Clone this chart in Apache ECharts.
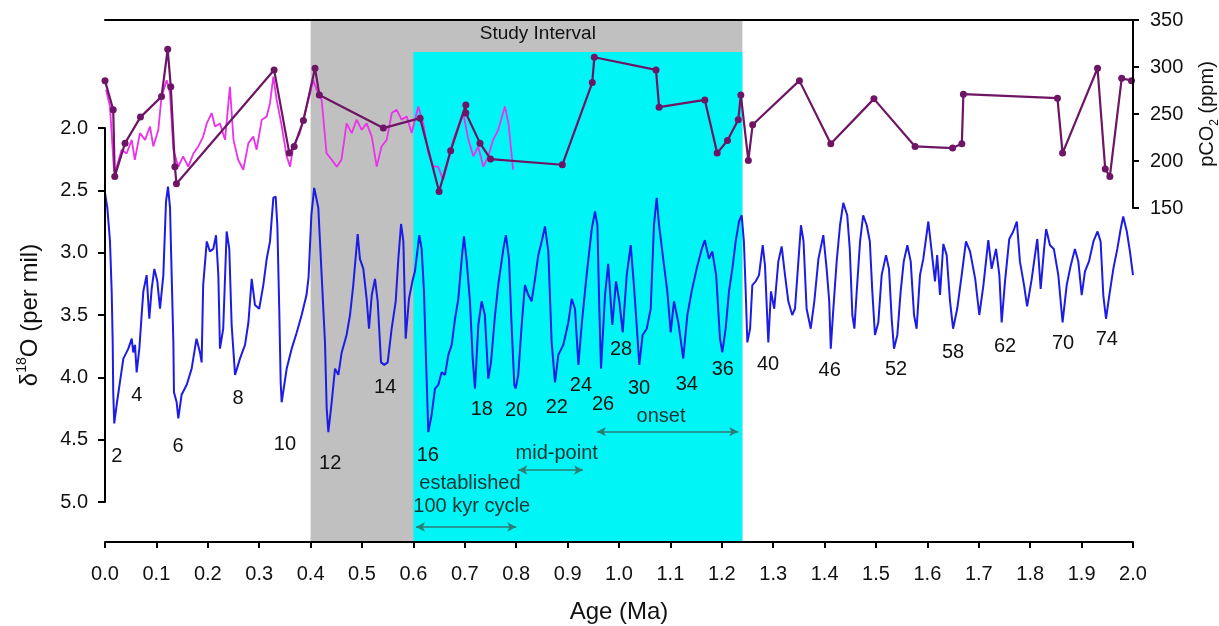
<!DOCTYPE html>
<html>
<head>
<meta charset="utf-8">
<script src="https://cdn.jsdelivr.net/npm/echarts@6/dist/echarts.min.js"></script>
<style>
  html, body { margin: 0; padding: 0; background: #fff; }
  #chart { width: 1219px; height: 626px; }
</style>
</head>
<body>
<div id="chart"></div>
<script>
// Benthic δ18O stack (per mil), age in Ma
const d18oAge = [
  0.000,0.0045,0.0097,0.013,0.015,0.016,0.018,0.0227,0.029,0.0357,0.0454,0.052,0.055,0.0584,0.0616,0.0668,0.0713,0.0746,0.081,0.0862,
  0.0908,0.096,0.1018,0.107,0.1135,0.1187,0.1226,0.1265,0.1297,0.133,0.1342,0.1394,0.1426,0.149,0.159,0.1686,0.178,0.1848,0.188,0.191,
  0.198,0.204,0.2107,0.216,0.2205,0.2237,0.230,0.2367,0.2418,0.2464,0.253,0.2626,0.2724,0.279,0.2854,0.2918,0.300,0.308,0.3146,0.321,
  0.3275,0.332,0.3353,0.339,0.3418,0.3437,0.3535,0.3632,0.373,0.3826,0.392,0.396,0.4015,0.407,0.415,0.4215,0.428,0.4313,0.4345,0.441,
  0.4475,0.454,0.4605,0.470,0.4767,0.483,0.4916,0.496,0.5026,0.509,0.5136,0.519,0.5253,0.5305,0.537,0.5434,0.550,0.5577,0.5656,0.5707,
  0.576,0.5805,0.585,0.5914,0.598,0.603,0.6115,0.616,0.6206,0.6245,0.629,0.6355,0.642,0.6485,0.655,0.6615,0.668,0.6745,0.681,0.6874,
  0.694,0.6984,0.7037,0.710,0.7154,0.7198,0.7263,0.7328,0.739,0.7457,0.751,0.7588,0.765,0.775,0.780,0.786,0.791,0.7963,0.799,0.804,
  0.8107,0.817,0.8236,0.830,0.8366,0.843,0.8496,0.856,0.8625,0.869,0.8755,0.882,0.8916,0.9014,0.908,0.9144,0.921,0.9274,0.937,0.947,
  0.9533,0.958,0.9617,0.965,0.9728,0.979,0.987,0.9942,1.0006,1.0072,1.015,1.0228,1.029,1.0344,1.0395,1.046,1.054,1.0617,1.068,1.0733,
  1.078,1.086,1.094,1.1006,1.107,1.1154,1.125,1.133,1.1414,1.151,1.161,1.167,1.175,1.1815,1.189,1.1965,1.201,1.2075,1.214,1.2205,
  1.227,1.2335,1.2387,1.243,1.2465,1.2497,1.255,1.2594,1.266,1.2724,1.2796,1.284,1.2905,1.2957,1.302,1.31,1.3165,1.323,1.3294,1.337,
  1.3424,1.349,1.354,1.359,1.365,1.373,1.38,1.388,1.3975,1.404,1.409,1.412,1.417,1.4235,1.43,1.4364,1.444,1.449,1.454,1.458,
  1.4625,1.469,1.475,1.482,1.488,1.4928,1.498,1.5045,1.511,1.5195,1.5253,1.5305,1.535,1.5415,1.548,1.554,1.561,1.5675,1.574,1.579,
  1.5856,1.592,1.6018,1.6083,1.6148,1.619,1.6245,1.631,1.6375,1.644,1.650,1.658,1.6667,1.675,1.683,1.693,1.701,1.709,1.7185,1.725,
  1.7335,1.74,1.7445,1.751,1.7593,1.767,1.774,1.780,1.788,1.794,1.803,1.8093,1.8138,1.8204,1.827,1.831,1.8385,1.846,1.8547,1.863,
  1.871,1.879,1.887,1.8936,1.9002,1.9066,1.9144,1.923,1.931,1.937,1.9422,1.9475,1.954,1.9617,1.9695,1.976,1.981,1.988,1.994,2.000
];
const d18oValue = [
  2.52,2.64,2.91,3.31,3.72,4.12,4.37,4.22,4.04,3.85,3.77,3.69,3.80,3.74,3.96,3.77,3.50,3.31,3.18,3.53,
  3.29,3.13,3.23,3.45,3.18,2.59,2.47,2.64,3.18,3.72,4.12,4.20,4.33,4.14,4.06,3.93,3.69,3.80,3.88,3.26,
  2.91,2.99,2.97,2.86,3.18,3.77,3.61,2.83,2.97,3.58,3.98,3.85,3.74,3.56,3.21,3.42,3.45,3.26,3.05,2.91,
  2.56,2.55,2.78,3.45,4.04,4.20,3.93,3.77,3.64,3.50,3.34,3.20,2.70,2.48,2.64,3.18,3.72,4.25,4.44,4.20,
  3.93,3.98,3.80,3.66,3.50,3.26,2.85,3.05,3.13,3.37,3.61,3.34,3.21,3.39,3.88,3.90,3.88,3.61,3.39,3.05,
  2.77,2.91,3.69,3.37,3.23,3.15,2.86,2.97,3.31,3.85,4.44,4.30,4.09,4.06,3.96,3.98,3.82,3.74,3.53,3.37,
  3.05,2.87,3.07,3.39,3.85,4.09,3.58,3.39,3.50,4.01,3.88,3.50,3.26,2.97,2.86,3.05,3.58,4.06,4.09,3.98,
  3.58,3.26,3.34,3.39,3.21,3.02,2.91,2.79,2.99,3.72,4.04,3.82,3.74,3.56,3.37,3.45,3.90,3.58,3.18,2.81,
  2.67,2.78,3.45,3.93,3.34,3.09,3.58,3.23,3.39,3.64,3.18,2.94,3.26,3.58,3.90,3.66,3.61,3.45,2.78,2.56,
  2.78,3.05,3.31,3.64,3.39,3.56,3.85,3.50,3.31,3.13,2.97,2.90,3.05,2.99,3.18,3.69,3.80,3.61,3.31,3.13,
  2.91,2.75,2.70,2.91,3.31,3.72,3.61,3.26,3.23,3.18,2.94,3.10,3.72,3.31,3.45,3.07,2.95,3.18,3.39,3.50,
  3.45,3.07,2.78,2.91,3.45,3.61,3.39,3.05,2.86,3.13,3.39,3.77,3.45,3.07,2.78,2.60,2.70,2.97,3.50,3.61,
  3.31,2.91,2.70,2.78,2.91,3.31,3.66,3.56,3.18,3.02,3.13,3.53,3.77,3.66,3.31,3.07,2.94,3.07,3.50,3.61,
  3.18,3.05,2.75,2.99,3.23,3.02,3.34,2.93,3.02,3.39,3.61,3.45,3.18,2.91,2.99,3.21,3.50,3.26,2.90,3.13,
  2.97,3.18,3.56,3.23,2.89,2.83,2.75,3.07,3.26,3.43,3.21,3.02,2.89,3.29,2.97,2.81,2.94,2.97,3.18,3.56,
  3.26,3.10,2.97,3.07,3.34,3.15,3.07,2.91,2.83,2.91,3.34,3.53,3.34,3.13,2.97,2.81,2.71,2.83,2.99,3.18
];

// Ice-core pCO2 (ppm), 0–0.8 Ma
const iceAge = [
  0.002,0.0097,0.0175,0.0227,0.0324,0.042,0.052,0.058,0.068,0.078,0.0875,0.094,0.1037,0.110,0.120,0.1265,0.133,0.1426,0.152,0.162,
  0.172,0.1815,0.191,0.198,0.2075,0.214,0.2237,0.2335,0.243,0.250,0.259,0.269,0.279,0.2885,0.295,0.305,0.3146,0.321,0.3275,0.334,
  0.344,0.3535,0.360,0.3664,0.379,0.389,0.399,0.405,0.412,0.4215,0.431,0.441,0.451,0.460,0.470,0.480,0.4897,0.4994,0.509,0.519,
  0.5286,0.538,0.548,0.558,0.5675,0.577,0.587,0.5966,0.6096,0.619,0.629,0.6387,0.648,0.658,0.668,0.6777,0.687,0.697,0.707,0.7166,
  0.726,0.736,0.7457,0.755,0.765,0.778,0.785,0.794
];
const iceCO2 = [
  275.7,258,189,194,212,208,222.5,201.3,229.7,222.5,236.7,215.5,233,268.5,286,272,212,194,205,194,
  208,215.5,226,240,251,236.7,240,222.5,279,222.5,201.3,190.7,219,226,212,244,247.3,261.5,289.8,265,
  236.7,205,194,215.5,229.7,251,272,286,275.7,265,208.4,201.3,194,201.3,240,229.7,244,233,240,226,
  194,215.5,222.5,251,254.4,244,247.3,229.7,258,240,208.4,194,194,180,201.3,222.5,236.7,251,222.5,205,
  215.5,194,205,222.5,233,258,240,190.7
];

// Boron-isotope pCO2 estimates (ppm), 0–2 Ma
const boronAge = [
  0.000,0.016,0.019,0.039,0.069,0.110,0.122,0.128,0.136,0.139,0.329,0.3586,0.368,0.386,0.4086,0.417,0.5415,0.613,0.650,0.6725,
  0.702,0.702,0.7296,0.750,0.8897,0.948,0.952,1.072,1.078,1.167,1.191,1.211,1.232,1.237,1.2516,1.260,1.351,1.412,1.496,1.576,
  1.649,1.667,1.670,1.853,1.863,1.931,1.946,1.955,1.978,1.997
];
const boronCO2 = [
  285.5,254.4,183.6,219,246.7,268.5,318.9,279,194,175.8,296.9,208.4,215.5,243,298.7,270.3,235,245.6,167.6,211,
  259.7,251,219,202,196,283.4,310.4,296.9,257.3,265,208.4,221.8,243.8,270.3,200.6,238.5,285.5,218.3,266.1,215.5,
  213.8,218.3,271.1,266.8,208.4,298.7,191.4,183.6,288,285.5
];

// Marine isotope stage labels: stage number, age (Ma), δ18O level of the label
const misStage = ['2','4','6','8','10','12','14','16','18','20','22','24','26','28','30','34','36','40','46','52','58','62','70','74'];
const misAge   = [0.023,0.062,0.142,0.259,0.350,0.438,0.545,0.628,0.733,0.800,0.879,0.926,0.969,1.004,1.039,1.132,1.202,1.290,1.410,1.539,1.650,1.751,1.864,1.949];
const misLevel = [4.64,4.15,4.56,4.17,4.54,4.69,4.08,4.63,4.26,4.27,4.24,4.07,4.22,3.78,4.09,4.06,3.94,3.90,3.95,3.94,3.80,3.75,3.73,3.70];

// Shaded intervals (Ma): study interval and the Mid-Pleistocene Transition window
const studyInterval = [0.4, 1.24];
const mptInterval = [0.6, 1.24];

// Transition phases (start, end in Ma)
const phaseNames = ['established', 'mid-point', 'onset'];
const phaseStart = [0.605, 0.804, 0.957];
const phaseEnd   = [0.800, 0.930, 1.232];

const FONT = '"Liberation Sans", Arial, Helvetica, sans-serif';
const INK = '#111';
const TEAL_TEXT = '#123434';
const TEAL_LINE = '#2e7d74';

// Levels (δ18O scale of the full-height frame) where annotations sit
const frameTop = 1.1332, frameBottom = 5.3226;
const phaseArrowLevel = [5.202, 4.745, 4.437];
const phaseTextPos = [
  { text: 'established', age: 0.710, level: 4.851 },
  { text: '100 kyr cycle', age: 0.7134, level: 5.039 },
  { text: 'mid-point', age: 0.8788, level: 4.611 },
  { text: 'onset', age: 1.0817, level: 4.317 }
];

const chart = echarts.init(document.getElementById('chart'), null, { renderer: 'canvas' });

const hiddenX = (g) => ({ gridIndex: g, type: 'value', min: 0, max: 2, show: false, axisLine: { onZero: false } });

const textLabel = (size, color) => ({
  show: true, position: 'inside', formatter: p => p.value[2],
  fontSize: size, color: color, fontFamily: FONT,
  textBorderWidth: 0, textShadowBlur: 0, opacity: 1
});

const option = {
  animation: false,
  backgroundColor: '#fff',
  textStyle: { fontFamily: FONT },
  grid: [
    { left: 105, right: 86, top: 20, bottom: 84, outerBoundsMode: 'none', containLabel: false },   // frame: shading, age axis, notes
    { left: 105, right: 86, top: 128, bottom: 124, outerBoundsMode: 'none', containLabel: false }, // δ18O panel
    { left: 105, right: 86, top: 20, bottom: 418, outerBoundsMode: 'none', containLabel: false }   // pCO2 panel
  ],
  xAxis: [
    {
      gridIndex: 0, type: 'value', min: 0, max: 2, interval: 0.1, position: 'bottom', z: 10,
      axisLine: { onZero: false, lineStyle: { color: '#000', width: 2 } },
      axisTick: { length: 6, lineStyle: { color: '#000', width: 2 } },
      axisLabel: { fontSize: 20, color: INK, margin: 22, fontFamily: FONT, formatter: v => v.toFixed(1) },
      splitLine: { show: false },
      name: 'Age (Ma)', nameLocation: 'middle', nameGap: 58,
      nameTextStyle: { fontSize: 24, color: INK, fontFamily: FONT }
    },
    {
      gridIndex: 0, type: 'value', min: 0, max: 2, position: 'top', z: 10,
      axisLine: { onZero: false, lineStyle: { color: '#000', width: 2 } },
      axisTick: { show: false }, axisLabel: { show: false }, splitLine: { show: false }
    },
    hiddenX(1),
    hiddenX(2)
  ],
  yAxis: [
    { gridIndex: 0, type: 'value', min: frameTop, max: frameBottom, inverse: true, show: false, axisLine: { onZero: false } },
    {
      gridIndex: 1, type: 'value', min: 2, max: 5, interval: 0.5, inverse: true, position: 'left', z: 10,
      axisLine: { show: true, onZero: false, lineStyle: { color: '#000', width: 2 } },
      axisTick: { show: true, length: 7, lineStyle: { color: '#000', width: 2 } },
      axisLabel: { fontSize: 20, color: INK, margin: 17, fontFamily: FONT, formatter: v => v.toFixed(1) },
      splitLine: { show: false },
      name: 'δ{sup|18}O (per mil)', nameLocation: 'middle', nameGap: 60,
      nameTextStyle: {
        fontSize: 24, color: INK, fontFamily: FONT, lineHeight: 30,
        rich: { sup: { fontSize: 14, verticalAlign: 'top', color: INK, fontFamily: FONT } }
      }
    },
    {
      gridIndex: 2, type: 'value', min: 150, max: 350, interval: 50, position: 'right', z: 10,
      axisLine: { show: true, onZero: false, lineStyle: { color: '#000', width: 2 } },
      axisTick: { show: true, length: 6, lineStyle: { color: '#000', width: 2 } },
      axisLabel: { fontSize: 20, color: INK, margin: 17, fontFamily: FONT },
      splitLine: { show: false },
      name: 'pCO{sub|2} (ppm)', nameLocation: 'middle', nameGap: 59,
      nameTextStyle: {
        fontSize: 20, color: INK, fontFamily: FONT, lineHeight: 26,
        rich: { sub: { fontSize: 12, verticalAlign: 'bottom', color: INK, fontFamily: FONT } }
      }
    }
  ],
  series: [
    {
      // background shading of the study interval and MPT window, plus phase arrows
      type: 'line', xAxisIndex: 0, yAxisIndex: 0, data: [], z: 1, silent: true,
      markArea: {
        silent: true,
        data: [
          [{ xAxis: studyInterval[0], itemStyle: { color: '#c0c0c0' } }, { xAxis: studyInterval[1] }],
          [{ xAxis: mptInterval[0], yAxis: 1.39, itemStyle: { color: '#00f6f6' } }, { xAxis: mptInterval[1], yAxis: frameBottom }]
        ]
      },
      markLine: {
        silent: true, symbol: ['arrow', 'arrow'], symbolSize: [7, 9],
        lineStyle: { color: TEAL_LINE, width: 1.5, type: 'solid' },
        label: { show: false },
        data: phaseNames.map((n, i) => [
          { coord: [phaseStart[i], phaseArrowLevel[i]] },
          { coord: [phaseEnd[i], phaseArrowLevel[i]] }
        ])
      }
    },
    {
      name: 'δ18O', type: 'line', xAxisIndex: 2, yAxisIndex: 1, z: 3,
      data: d18oAge.map((a, i) => [a, d18oValue[i]]),
      showSymbol: false, symbol: 'none',
      lineStyle: { color: '#1c1ce6', width: 2 }
    },
    {
      name: 'ice core pCO2', type: 'line', xAxisIndex: 3, yAxisIndex: 2, z: 4,
      data: iceAge.map((a, i) => [a, iceCO2[i]]),
      showSymbol: false, symbol: 'none',
      lineStyle: { color: '#ec30ec', width: 1.8 }
    },
    {
      name: 'boron pCO2', type: 'line', xAxisIndex: 3, yAxisIndex: 2, z: 5,
      data: boronAge.map((a, i) => [a, boronCO2[i]]),
      symbol: 'circle', symbolSize: 7, showSymbol: true,
      itemStyle: { color: '#6e1566' },
      lineStyle: { color: '#6e1566', width: 2.2 }
    },
    {
      // stage numbers
      type: 'scatter', xAxisIndex: 0, yAxisIndex: 0, z: 6, silent: true,
      symbolSize: 0.1, itemStyle: { color: '#000' },
      data: misStage.map((s, i) => [misAge[i], misLevel[i], s]),
      label: textLabel(20, INK)
    },
    {
      // phase notes
      type: 'scatter', xAxisIndex: 0, yAxisIndex: 0, z: 6, silent: true,
      symbolSize: 0.1, itemStyle: { color: '#000' },
      data: phaseTextPos.map(t => [t.age, t.level, t.text]),
      label: textLabel(20, TEAL_TEXT)
    },
    {
      type: 'scatter', xAxisIndex: 0, yAxisIndex: 0, z: 6, silent: true,
      symbolSize: 0.1, itemStyle: { color: '#000' },
      data: [[0.842, 1.2416, 'Study Interval']],
      label: textLabel(19, INK)
    }
  ]
};

chart.setOption(option);
</script>
</body>
</html>
